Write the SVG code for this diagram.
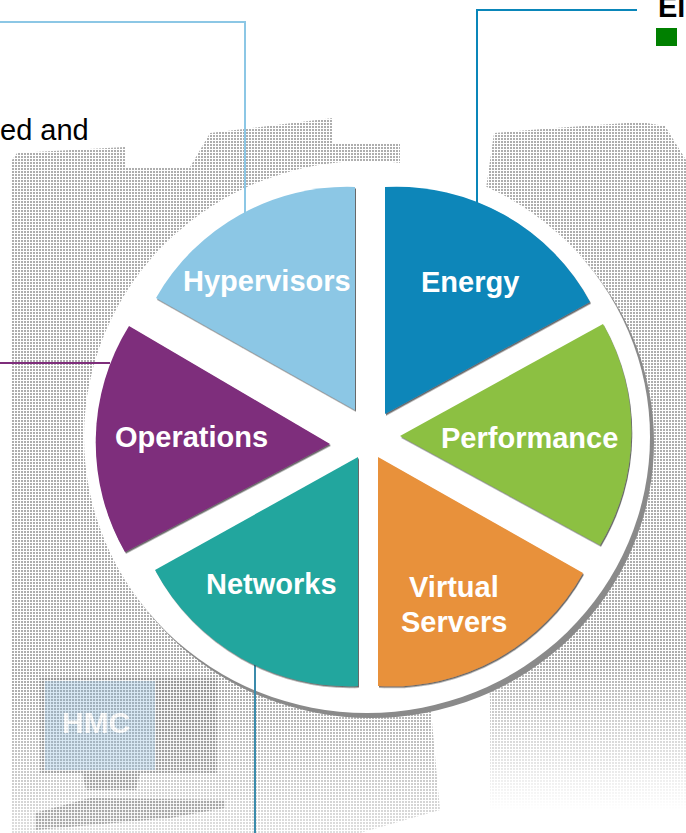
<svg xmlns="http://www.w3.org/2000/svg" width="686" height="833" viewBox="0 0 686 833">
  <style>
    .lbl { font-family: "Liberation Sans", Arial, sans-serif; font-weight: bold; font-size: 29px; fill: #ffffff; }
    .txt { font-family: "Liberation Sans", Arial, sans-serif; font-size: 29px; fill: #000000; }
    .conn { fill: none; stroke-width: 2; }
    .slice { filter: url(#edge); }
  </style>
  <defs>
    <pattern id="ht" width="3" height="3" patternUnits="userSpaceOnUse">
      <rect x="0" y="0" width="2" height="2" fill="#9a9a9a"/>
    </pattern>
    <pattern id="ht2" width="3" height="3" patternUnits="userSpaceOnUse">
      <rect x="0" y="0" width="2.2" height="2.2" fill="#8a8a8a"/>
    </pattern>
    <linearGradient id="fadeR" x1="0" y1="0" x2="0" y2="1">
      <stop offset="0" stop-color="#fff"/>
      <stop offset="0.78" stop-color="#fff"/>
      <stop offset="1" stop-color="#000"/>
    </linearGradient>
    <linearGradient id="fadeL" x1="0" y1="0" x2="0" y2="1">
      <stop offset="0" stop-color="#fff"/>
      <stop offset="0.8" stop-color="#fff"/>
      <stop offset="1" stop-color="#666"/>
    </linearGradient>
    <mask id="mR" maskUnits="userSpaceOnUse" x="0" y="0" width="686" height="833">
      <rect x="0" y="120" width="686" height="690" fill="url(#fadeR)"/>
    </mask>
    <mask id="mL" maskUnits="userSpaceOnUse" x="0" y="0" width="686" height="833">
      <rect x="0" y="110" width="686" height="723" fill="url(#fadeL)"/>
    </mask>
    <filter id="edge" x="-5%" y="-5%" width="110%" height="110%">
      <feDropShadow dx="1" dy="1.5" stdDeviation="0.6" flood-color="#2a2a2a" flood-opacity="0.7"/>
    </filter>
  </defs>

  <rect x="0" y="0" width="686" height="833" fill="#ffffff"/>

  <!-- halftone background -->
  <g id="background">
    <path mask="url(#mL)" fill="url(#ht)" opacity="0.8" d="M17,153 L125,147 L125,167 L190,167 L210,133 L333,118 L333,143 L400,143 L400,170 L430,700 L440,810 L360,833 L12,833 L12,160 Z"/>
    <path mask="url(#mR)" fill="url(#ht)" opacity="0.8" d="M494,133 L555,128 L640,122 L665,126 L686,160 L686,833 L490,833 L490,700 L470,300 Z"/>
    <!-- HMC monitor -->
    <g id="hmc" opacity="0.6">
      <rect x="40" y="677" width="177" height="96" fill="url(#ht2)"/>
      <rect x="45" y="681" width="110" height="89" fill="#9cc8e8" opacity="0.6"/>
      <polygon points="82,773 140,773 136,790 86,790" fill="url(#ht2)"/>
      <polygon points="35,813 90,798 225,800 225,808 170,818 35,830" fill="url(#ht2)"/>
      <text x="62" y="733" font-family="Liberation Sans, Arial, sans-serif" font-weight="bold" font-size="30" fill="#ffffff">HMC</text>
    </g>
  </g>

  <!-- wheel disc -->
  <g id="disc">
    <ellipse cx="371" cy="442" rx="283" ry="276" fill="#8a8a8a"/>
    <ellipse cx="367" cy="437" rx="283" ry="276" fill="#ffffff"/>
  </g>

  <!-- connectors -->
  <g id="connectors">
    <path class="conn" stroke="#8cc7e5" d="M0,22 H245 V213"/>
    <path class="conn" stroke="#0a86b9" d="M637,10 H477 V203"/>
    <path class="conn" stroke="#7e2d7b" d="M0,363 H110"/>
    <path class="conn" stroke="#3b8bab" d="M255,651 V833"/>
  </g>

  <!-- slices -->
  <g id="hypervisors">
    <path class="slice" fill="#8cc7e5" d="M355,187 L355,410 L156,298 A220,220 0 0 1 355,187 Z"/>
    <text class="lbl" x="183" y="291">Hypervisors</text>
  </g>
  <g id="energy">
    <path class="slice" fill="#0a86b9" d="M385,187 A220,220 0 0 1 590,302 L385,414 Z"/>
    <text class="lbl" x="421" y="292">Energy</text>
  </g>
  <g id="performance">
    <path class="slice" fill="#8cc043" d="M400,436 L603,324 A220,220 0 0 1 600,545 Z"/>
    <text class="lbl" x="441" y="448">Performance</text>
  </g>
  <g id="virtual-servers">
    <path class="slice" fill="#e8913b" d="M378,457 L583,573 A220,220 0 0 1 378,686 Z"/>
    <text class="lbl" x="409" y="597">Virtual</text>
    <text class="lbl" x="401" y="632">Servers</text>
  </g>
  <g id="networks">
    <path class="slice" fill="#22a69e" d="M358,457 L358,686 A220,220 0 0 1 155,570 Z"/>
    <text class="lbl" x="206" y="594">Networks</text>
  </g>
  <g id="operations">
    <path class="slice" fill="#7e2d7b" d="M330,444 L125,552 A220,220 0 0 1 129,326 Z"/>
    <text class="lbl" x="115" y="447">Operations</text>
  </g>

  <!-- partial texts at edges -->
  <g id="side-texts">
    <text class="txt" x="0" y="140">ed and</text>
    <text class="txt" x="658" y="17" font-weight="bold">El</text>
    <rect x="656" y="28" width="21" height="18" fill="#008000"/>
  </g>
</svg>
